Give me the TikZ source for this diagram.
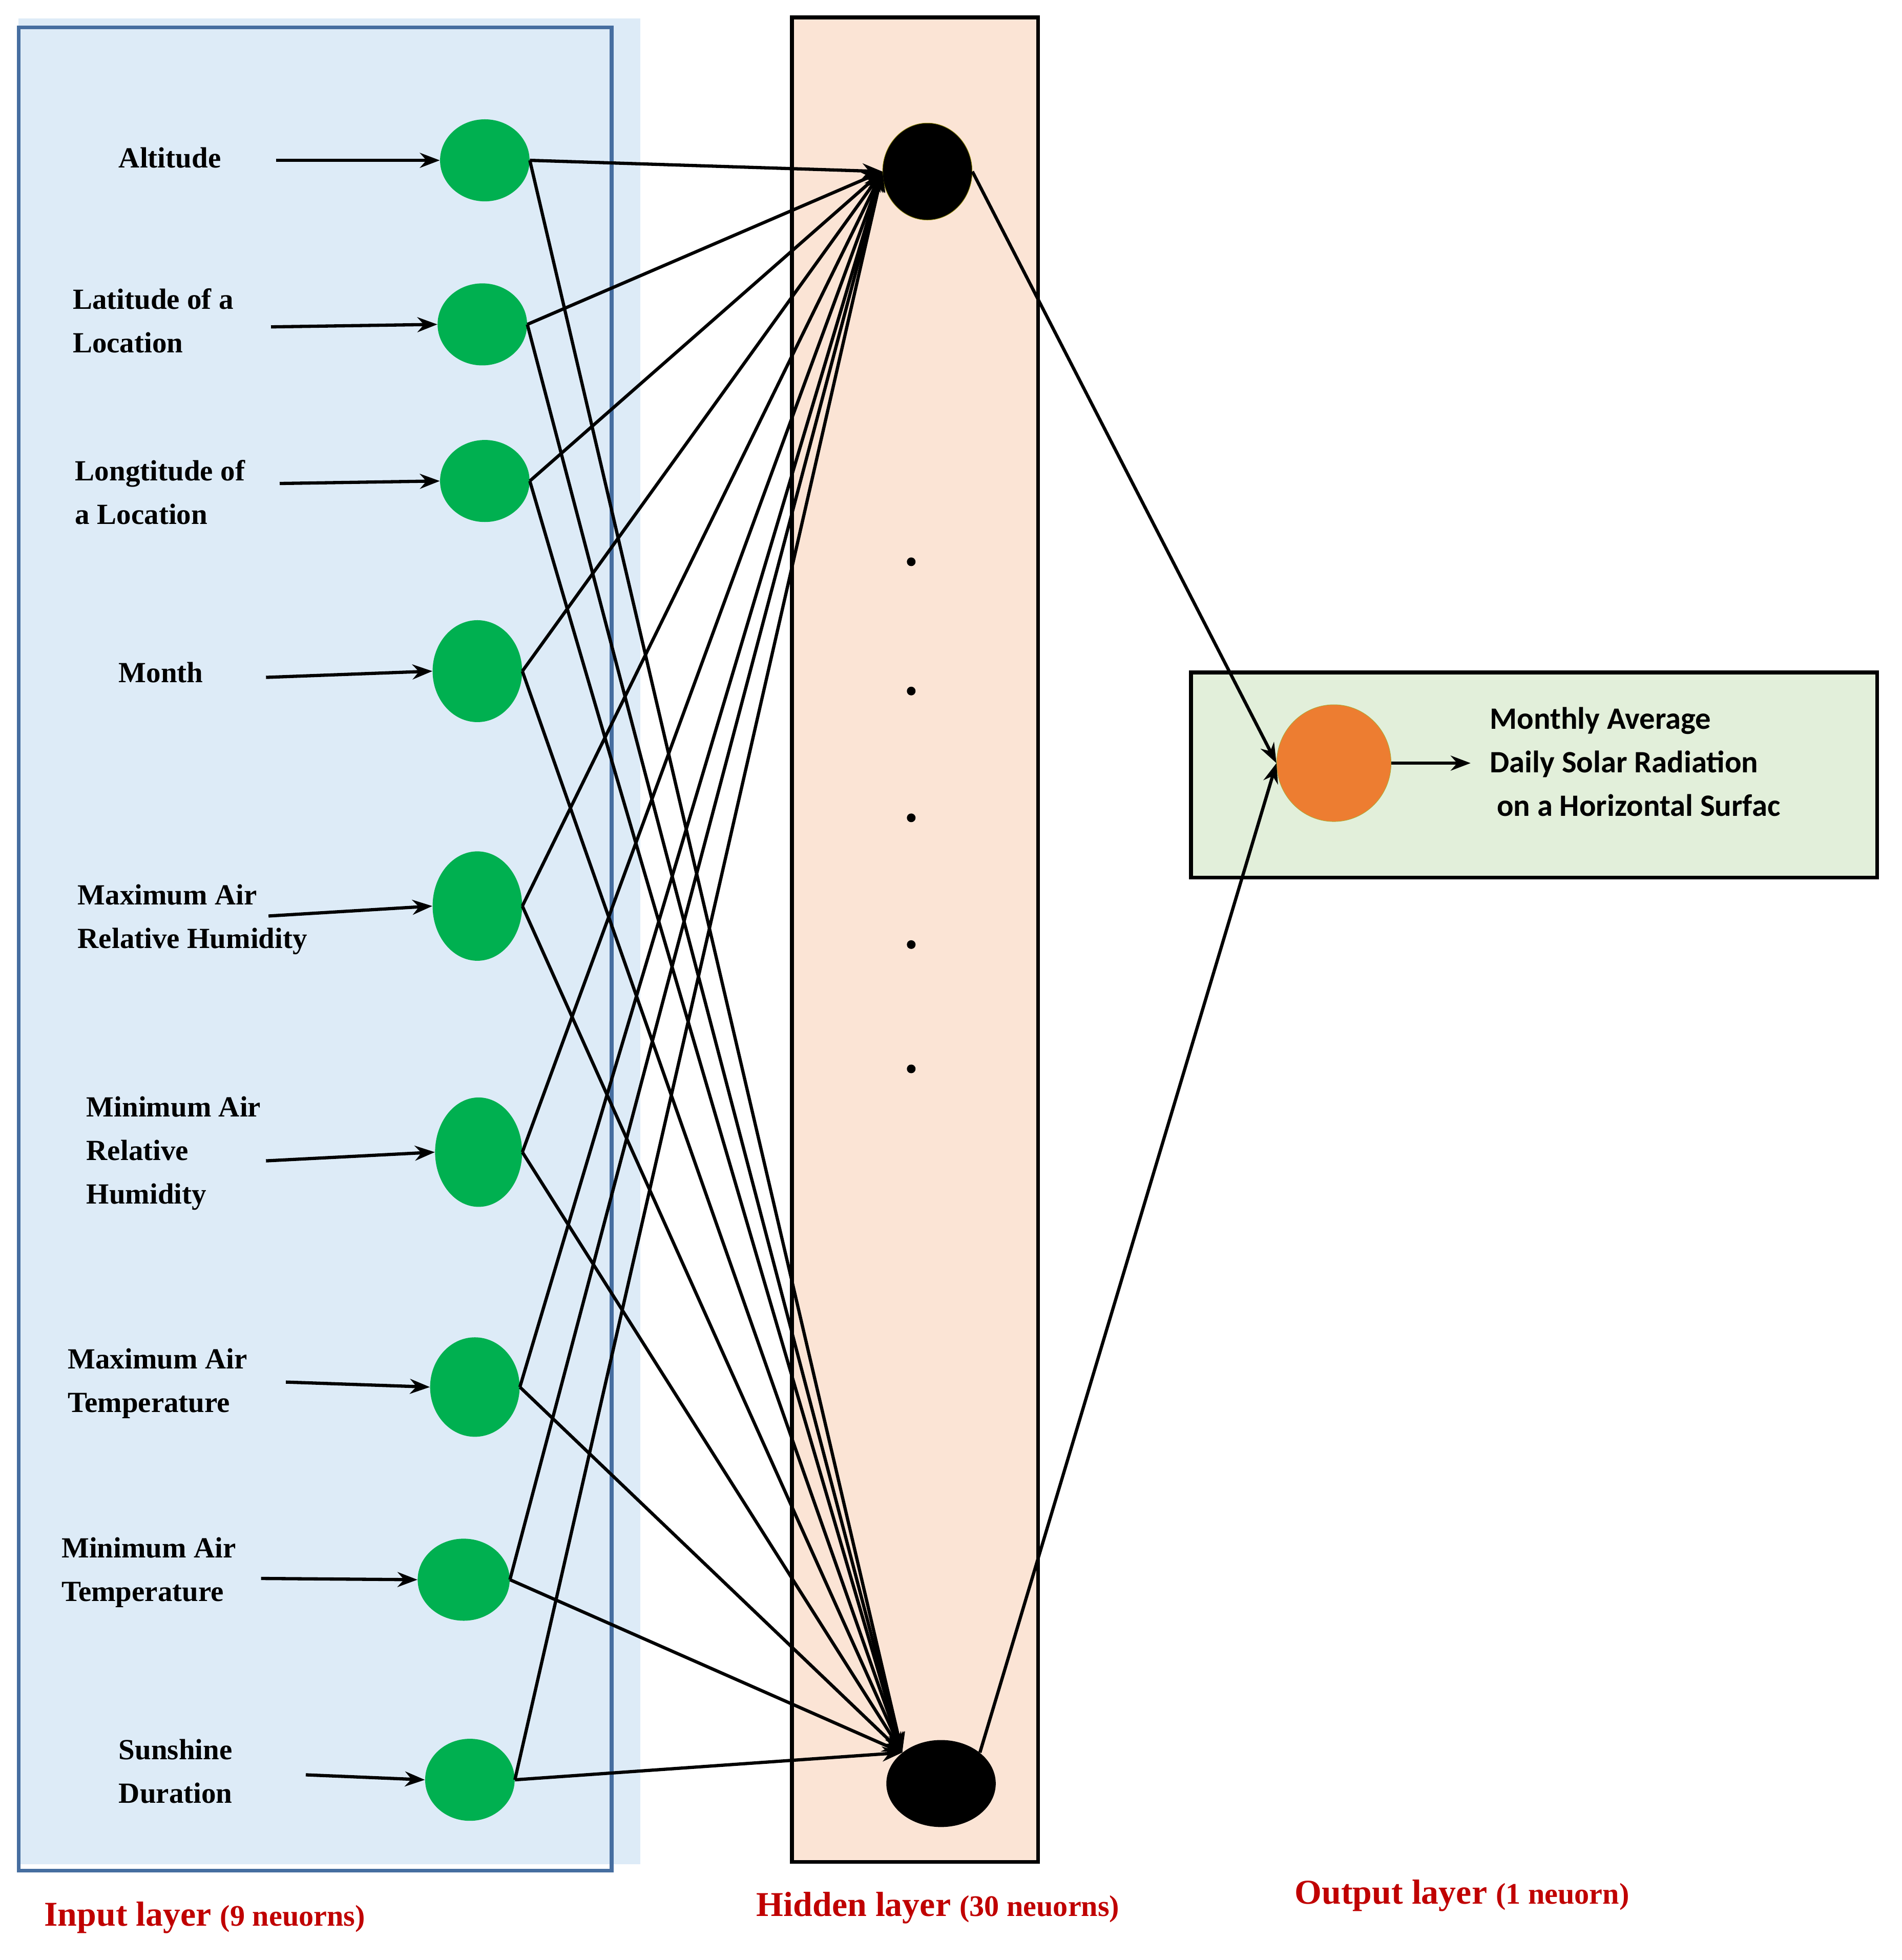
\documentclass[tikz,border=0pt]{standalone}
\usepackage{fontspec}
\setmainfont{Liberation Serif}
\newfontfamily\carl{Carlito}
\usetikzlibrary{arrows.meta,shapes.geometric}
\definecolor{inbg}{RGB}{221,235,247}
\definecolor{inbd}{RGB}{70,110,160}
\definecolor{hidbg}{RGB}{251,228,213}
\definecolor{outbg}{RGB}{226,239,218}
\definecolor{grn}{RGB}{0,176,80}
\definecolor{org}{RGB}{237,125,49}
\definecolor{redt}{RGB}{192,0,0}
\begin{document}
\begin{tikzpicture}[x=1pt,y=-1pt,
  inn/.style={ellipse,fill=grn,inner sep=0,minimum width=72,minimum height=#1},
  lab/.style={anchor=west,align=left,font=\fontsize{23.5}{35}\selectfont\bfseries},
  ed/.style={line width=2.6pt,-{Stealth[length=16,width=12]}},
  ttl/.style={anchor=west,text=redt,font=\fontsize{28}{30}\selectfont\bfseries}]
\useasboundingbox (0,0) rectangle (1530,1577);
\fill[inbg] (15,15) rectangle (515,1500);
\draw[inbd,line width=3pt] (15,22) rectangle (492,1505);
\draw[fill=hidbg,line width=3pt] (637,14) rectangle (835,1498);
\draw[fill=outbg,line width=3pt] (958,541) rectangle (1510,706);
\node[inn=66] (i1) at (390,129) {};
\node[inn=66] (i2) at (388,261) {};
\node[inn=66] (i3) at (390,387) {};
\node[inn=82] (i4) at (384,540) {};
\node[inn=88] (i5) at (384,729) {};
\node[inn=88,minimum width=70] (i6) at (385,927) {};
\node[inn=80] (i7) at (382,1116) {};
\node[inn=66,minimum width=74] (i8) at (373,1271) {};
\node[inn=66] (i9) at (378,1432) {};
\node[ellipse,fill=black,draw=olive,inner sep=0,minimum width=72,minimum height=78] (h1) at (746,138) {};
\node[ellipse,fill=black,inner sep=0,minimum width=88,minimum height=70] (h2) at (757,1435) {};
\node[ellipse,fill=org,draw=olive!70,inner sep=0,minimum width=92,minimum height=94] (o) at (1073,614) {};
\foreach \i in {1,...,9}{\draw[ed] (i\i.east) -- (h1.west); \draw[ed] (i\i.east) -- (h2.north west);}
\draw[ed] (h1.east) -- (o.west); \draw[ed] (h2.north east) -- (o.west);
\coordinate (oe) at (1183,614);
\draw[ed] (o.east) -- (oe);
\node[lab] at (92,127) {Altitude};
\node[lab] at (55,258) {Latitude of a\\Location};
\node[lab] at (57,396) {Longtitude of\\a Location};
\node[lab] at (92,541) {Month};
\node[lab] at (59,740) {Maximum Air\\Relative Humidity};
\node[lab] at (66,928) {Minimum Air\\Relative\\Humidity};
\node[lab] at (51,1113) {Maximum Air\\Temperature};
\node[lab] at (46,1265) {Minimum Air\\Temperature};
\node[lab] at (92,1425) {Sunshine\\Duration};
\coordinate (a1) at (222,129); \coordinate (a2) at (218,263);
\coordinate (a3) at (225,389); \coordinate (a4) at (214,545);
\coordinate (a5) at (216,737); \coordinate (a6) at (214,934);
\coordinate (a7) at (230,1112); \coordinate (a8) at (210,1270);
\coordinate (a9) at (246,1428);
\foreach \i in {1,...,9}{\draw[ed] (a\i) -- (i\i.west);}
\foreach \y in {452,556,658,760,860}{\fill (733,\y) circle (3.5);}
\node[anchor=west,align=left,font=\carl\fontsize{25}{35}\selectfont\bfseries] at (1195,613) {Monthly Average\\Daily Solar Radiation\\\ on a Horizontal Surfac};
\node[ttl] at (32,1543) {Input layer {\fontsize{24}{26}\selectfont(9 neuorns)}};
\node[ttl] at (605,1535) {Hidden layer {\fontsize{24}{26}\selectfont(30 neuorns)}};
\node[ttl] at (1038,1525) {Output layer {\fontsize{24}{26}\selectfont(1 neuorn)}};
\end{tikzpicture}
\end{document}
